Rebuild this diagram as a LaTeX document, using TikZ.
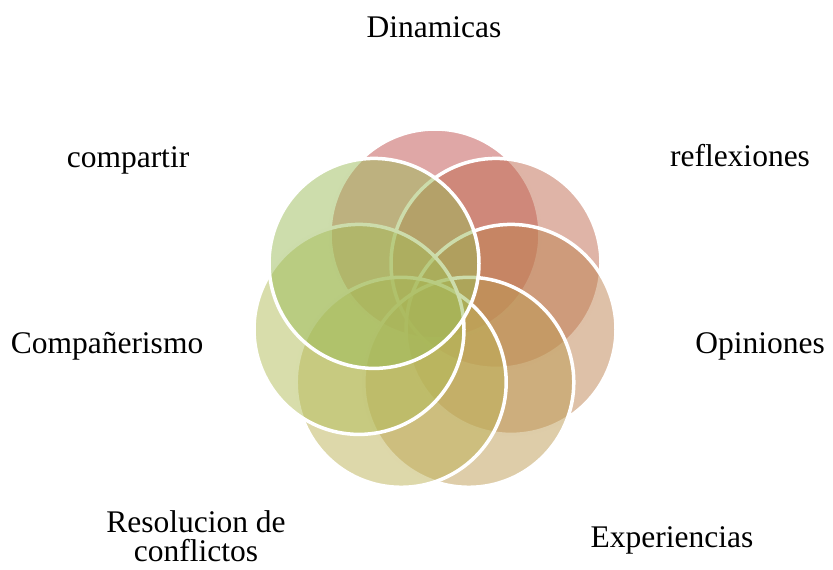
\documentclass[tikz,border=0pt]{standalone}
\usepackage{fontspec}
\setmainfont{Liberation Serif}
\definecolor{cA}{RGB}{192,80,77}
\definecolor{cB}{RGB}{191,106,79}
\definecolor{cC}{RGB}{190,131,81}
\definecolor{cD}{RGB}{189,155,83}
\definecolor{cE}{RGB}{188,177,85}
\definecolor{cF}{RGB}{177,188,87}
\definecolor{cG}{RGB}{155,187,89}
\tikzset{
  petal/.style={circle, minimum size=210pt, inner sep=0pt, fill=#1, fill opacity=0.5, draw=white, draw opacity=1, line width=3.5pt},
  lbl/.style={anchor=base, inner sep=0pt, font=\fontsize{31.5}{29}\selectfont, align=center}
}
\begin{document}
\begin{tikzpicture}[x=1pt,y=-1pt]
\useasboundingbox (0,0) rectangle (833,570);
\node[petal=cA] (c1) at (435,234) {};
\node[petal=cB] (c2) at (496,263.4) {};
\node[petal=cC] (c3) at (511,329.4) {};
\node[petal=cD] (c4) at (468.8,382.3) {};
\node[petal=cE] (c5) at (401.2,382.3) {};
\node[petal=cF] (c6) at (359,329.4) {};
\node[petal=cG] (c7) at (374,263.4) {};
\node[lbl] (t1) at (434,37) {Dinamicas};
\node[lbl] (t2) at (740,166) {reflexiones};
\node[lbl] (t3) at (760,353) {Opiniones};
\node[lbl] (t4) at (672,547) {Experiencias};
\node[lbl] (t5) at (196,532) {Resolucion de};
\node[lbl] (t5b) at (196,561) {conflictos};
\node[lbl] (t6) at (107,353) {Compañerismo};
\node[lbl] (t7) at (128,167) {compartir};
\end{tikzpicture}
\end{document}
